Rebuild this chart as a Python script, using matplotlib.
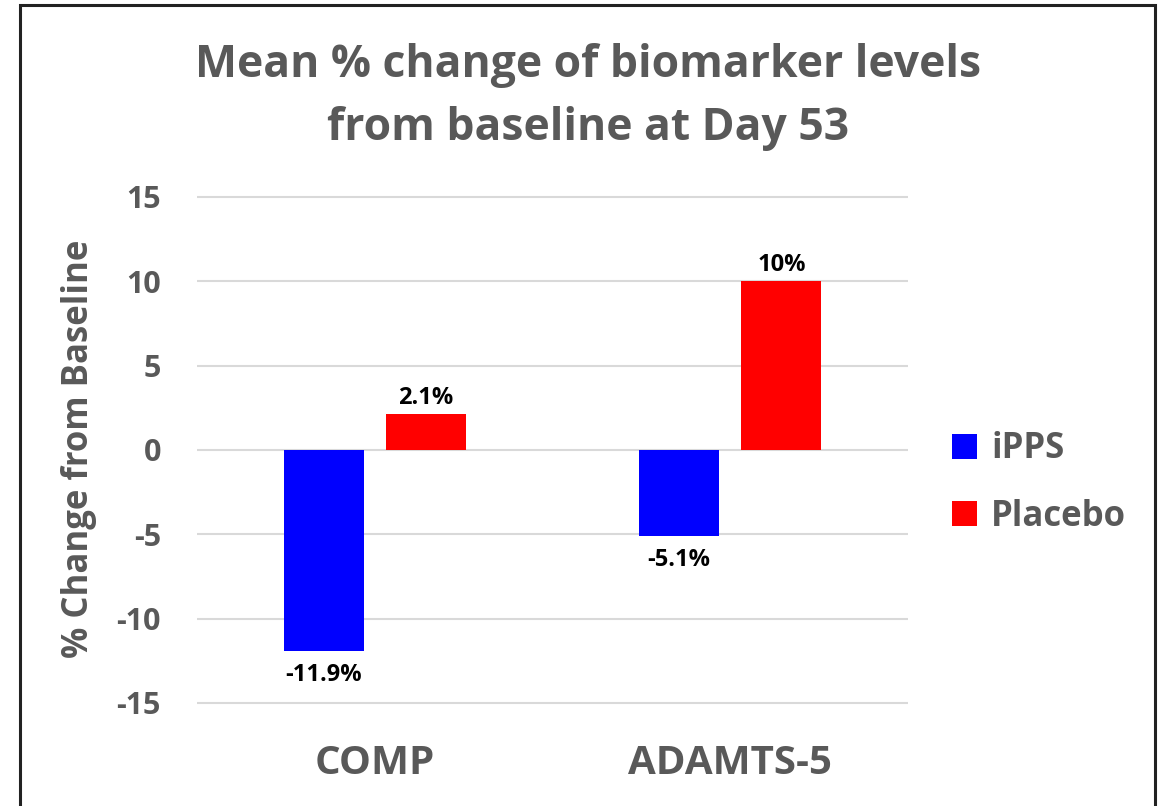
import numpy as np
import matplotlib.pyplot as plt
from matplotlib.patches import Rectangle

categories = ['COMP', 'ADAMTS-5']
series = ['iPPS', 'Placebo']
ipps = [-11.9, -5.1]
placebo = [2.1, 10.0]
ipps_labels = ['-11.9%', '-5.1%']
placebo_labels = ['2.1%', '10%']
colors = ['#0000FF', '#FF0000']
yticks = [-15, -10, -5, 0, 5, 10, 15]

GRAY = '#595959'
plt.rcParams['font.family'] = ['Open Sans', 'DejaVu Sans']
plt.rcParams['font.weight'] = 'bold'

W, H = 1163, 806
fig = plt.figure(figsize=(W / 100, H / 100), dpi=100)
ax = fig.add_axes([197 / W, 1 - 740 / H, (908 - 197) / W, (740 - 180) / H])

x = np.arange(len(categories))
bw = 0.225
off = 0.144
b1 = ax.bar(x - off, ipps, bw, color=colors[0], label=series[0], zorder=3)
b2 = ax.bar(x + off, placebo, bw, color=colors[1], label=series[1], zorder=3)

for rect, lab in zip(b1, ipps_labels):
    ax.annotate(lab, (rect.get_x() + rect.get_width() / 2, rect.get_height()),
                xytext=(0, -9), textcoords='offset points', ha='center', va='top',
                fontsize=17, fontweight='bold', color='black')
for rect, lab in zip(b2, placebo_labels):
    ax.annotate(lab, (rect.get_x() + rect.get_width() / 2, rect.get_height()),
                xytext=(0, 3), textcoords='offset points', ha='center', va='bottom',
                fontsize=17, fontweight='bold', color='black')

ax.set_xlim(-0.5, 1.5)
ax.set_ylim(-17.2, 16.0)
ax.set_yticks(yticks)
ax.set_yticklabels([str(t) for t in yticks], fontsize=22, color=GRAY, fontweight='bold')
ax.set_xticks(x)
ax.set_xticklabels(categories, fontsize=29, color=GRAY, fontweight='bold')
ax.tick_params(axis='both', length=0)
ax.tick_params(axis='y', pad=26)
ax.tick_params(axis='x', pad=3)
ax.grid(axis='y', color='#D9D9D9', linewidth=1.5, zorder=0)
for s in ax.spines.values():
    s.set_visible(False)

ax.set_ylabel('% Change from Baseline', fontsize=25, color=GRAY, fontweight='bold')
ax.yaxis.set_label_coords(-0.14, 0.52)

fig.text(588 / W, 1 - 97 / H, 'Mean % change of biomarker levels\nfrom baseline at Day 53',
         ha='center', va='center', fontsize=32, color=GRAY, fontweight='bold', linespacing=1.55)

leg = fig.legend(handles=[b1, b2], loc='center left', bbox_to_anchor=(921 / W, 1 - 483 / H),
                 frameon=False, fontsize=25, handlelength=0.72, handleheight=0.72,
                 labelspacing=0.9, handletextpad=0.4)
for t in leg.get_texts():
    t.set_color(GRAY)
    t.set_fontweight('bold')

fig.patches.append(Rectangle((20 / W, -0.05), (1155 - 20) / W, 1.05 - 5 / H,
                             transform=fig.transFigure, fill=False,
                             edgecolor='#222222', linewidth=2.2))

fig.savefig('out.png', dpi=100)
